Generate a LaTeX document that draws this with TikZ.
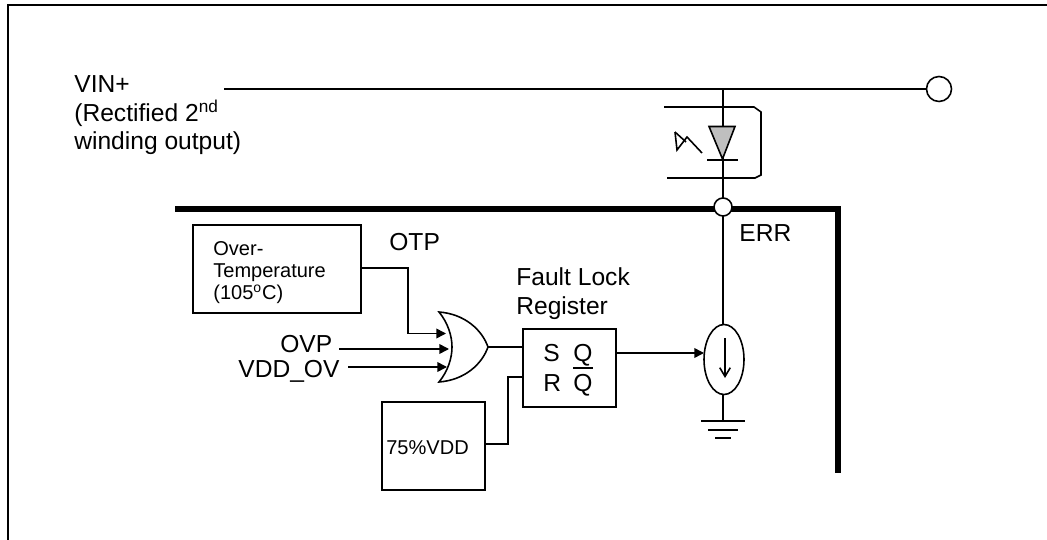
\documentclass[tikz,border=0pt]{standalone}
\usepackage{fontspec}
\setmainfont{Liberation Sans}
\usetikzlibrary{arrows.meta}
\usetikzlibrary{shapes.geometric}

\tikzset{
    wire/.style={line width=0.9pt},
    sig/.style={wire,-{Triangle[length=5.5pt,width=5.5pt]}},
    box/.style={draw,wire,rectangle,outer sep=0pt,inner sep=0pt},
    pin/.style={draw,wire,circle,fill=white,outer sep=0pt,inner sep=0pt},
    big/.style={anchor=base west,inner sep=0pt,font=\fontsize{14}{16}\selectfont},
    small/.style={anchor=base west,inner sep=0pt,font=\fontsize{11.4}{13}\selectfont}
}

\begin{document}
\begin{tikzpicture}[x=0.02cm,y=-0.02cm]

    \useasboundingbox (0,0) rectangle (1047,540);

    % outer frame
    \draw [line width=1.2pt] (8,540) -- (8,5) -- (1047,5);

    % chip outline
    \draw [line width=3.4pt,miter limit=10] (175,209) -- (838,209) -- (838,473);

    % pins
    \node [pin,minimum size=0.5cm] (vinPin) at (939,89) {};
    \node [pin,minimum size=0.36cm] (errPin) at (723,207) {};

    % blocks
    \node [box,minimum width=3.36cm,minimum height=1.76cm] (overTemp) at (277,269) {};
    \node [box,minimum width=2.06cm,minimum height=1.76cm] (refVdd) at (433.5,446) {};
    \node [box,minimum width=1.86cm,minimum height=1.56cm] (register) at (569.5,368) {};
    \node [draw,wire,ellipse,minimum width=0.8cm,minimum height=1.4cm,outer sep=0pt,inner sep=0pt] (source) at (724,359.5) {};

    % labels
    \node [big] (vinLabel) at (74,93) {VIN+};
    \node [big] (rectLabel) at (74,122) {(Rectified 2\textsuperscript{nd}};
    \node [big] (windLabel) at (74,150) {winding output)};
    \node [big] (errLabel) at (739,242) {ERR};
    \node [big] (otpLabel) at (389,251) {OTP};
    \node [big] (ovpLabel) at (280,352) {OVP};
    \node [big] (vddLabel) at (238,377) {VDD\_OV};
    \node [big] (faultLabel) at (516,286) {Fault Lock};
    \node [big] (regLabel) at (516,315) {Register};
    \node [small] (overLabel) at (213,256) {Over-};
    \node [small] (tempLabel) at (213,277) {Temperature};
    \node [small] (degLabel) at (213,299) {(105\textsuperscript{o}C)};
    \node [small] (refLabel) at (386,454) {75\%VDD};
    \node [big] (sLabel) at (543,361) {S};
    \node [big] (rLabel) at (543,391) {R};
    \node [big] (qLabel) at (573,361) {Q};
    \node [big] (nqLabel) at (573,391) {Q};
    \draw [wire] (nqLabel.base west |- 0,368) -- (nqLabel.base east |- 0,368);

    % free ends of the wires
    \coordinate (vinStart) at (224,89);
    \coordinate (otpOut) at (361,268);
    \coordinate (orA) at (446,333.5);
    \coordinate (orB) at (449,349);
    \coordinate (orC) at (447,367);
    \coordinate (ovpStart) at (339,349);
    \coordinate (vddStart) at (348,367);
    \coordinate (orOut) at (488,347);
    \coordinate (regS) at (523,347);
    \coordinate (regR) at (523,377);
    \coordinate (refOut) at (485,444);
    \coordinate (regQ) at (616,353);
    \coordinate (srcIn) at (704,353);
    \coordinate (gnd) at (723,421);

    % OR gate
    \draw [wire,fill=white] (439,312) .. controls (465,314) and (482,330) .. (orOut)
        .. controls (482,364) and (465,380) .. (439,382)
        .. controls (448,371) and (452,358) .. (452,347)
        .. controls (452,336) and (448,323) .. (439,312) -- cycle;

    % wires
    \draw [wire] (vinStart) -- (vinPin.west);
    \draw [wire] (errPin.north |- vinStart) -- (errPin.north);
    \draw [wire] (errPin.south) -- (errPin.south |- source.north);
    \draw [sig] (otpOut) -- (408,268) -- (408,333.5) -- (orA);
    \draw [sig] (ovpStart) -- (orB);
    \draw [sig] (vddStart) -- (orC);
    \draw [wire] (orOut) -- (regS);
    \draw [wire] (refOut) -- (508,444) -- (508,377) -- (regR);
    \draw [sig] (regQ) -- (srcIn);

    % current source arrow
    \draw [wire,-{Straight Barb[length=5pt,width=6pt]}] (725,338) -- (725,378);

    % ground
    \draw [wire] (source.south -| gnd) -- (gnd);
    \foreach \y/\w in {421/22,430/15,438/8}
        \draw [wire] ({723-\w},\y) -- ({723+\w},\y);

    % opto coupler
    \draw [wire] (664,107) -- (754,107) -- (761,112) -- (761,175) -- (755,178) -- (667,178);
    \draw [wire,fill=black!25,line join=miter] (709,126.5) -- (735,126.5) -- (722.5,159) -- cycle;
    \draw [wire] (707,160) -- (738,160);
    \draw [wire] (675,132) -- (677,150) -- (687,137) -- (702,153);
    \draw [wire] (675,132) -- (686,142);

\end{tikzpicture}
\end{document}
